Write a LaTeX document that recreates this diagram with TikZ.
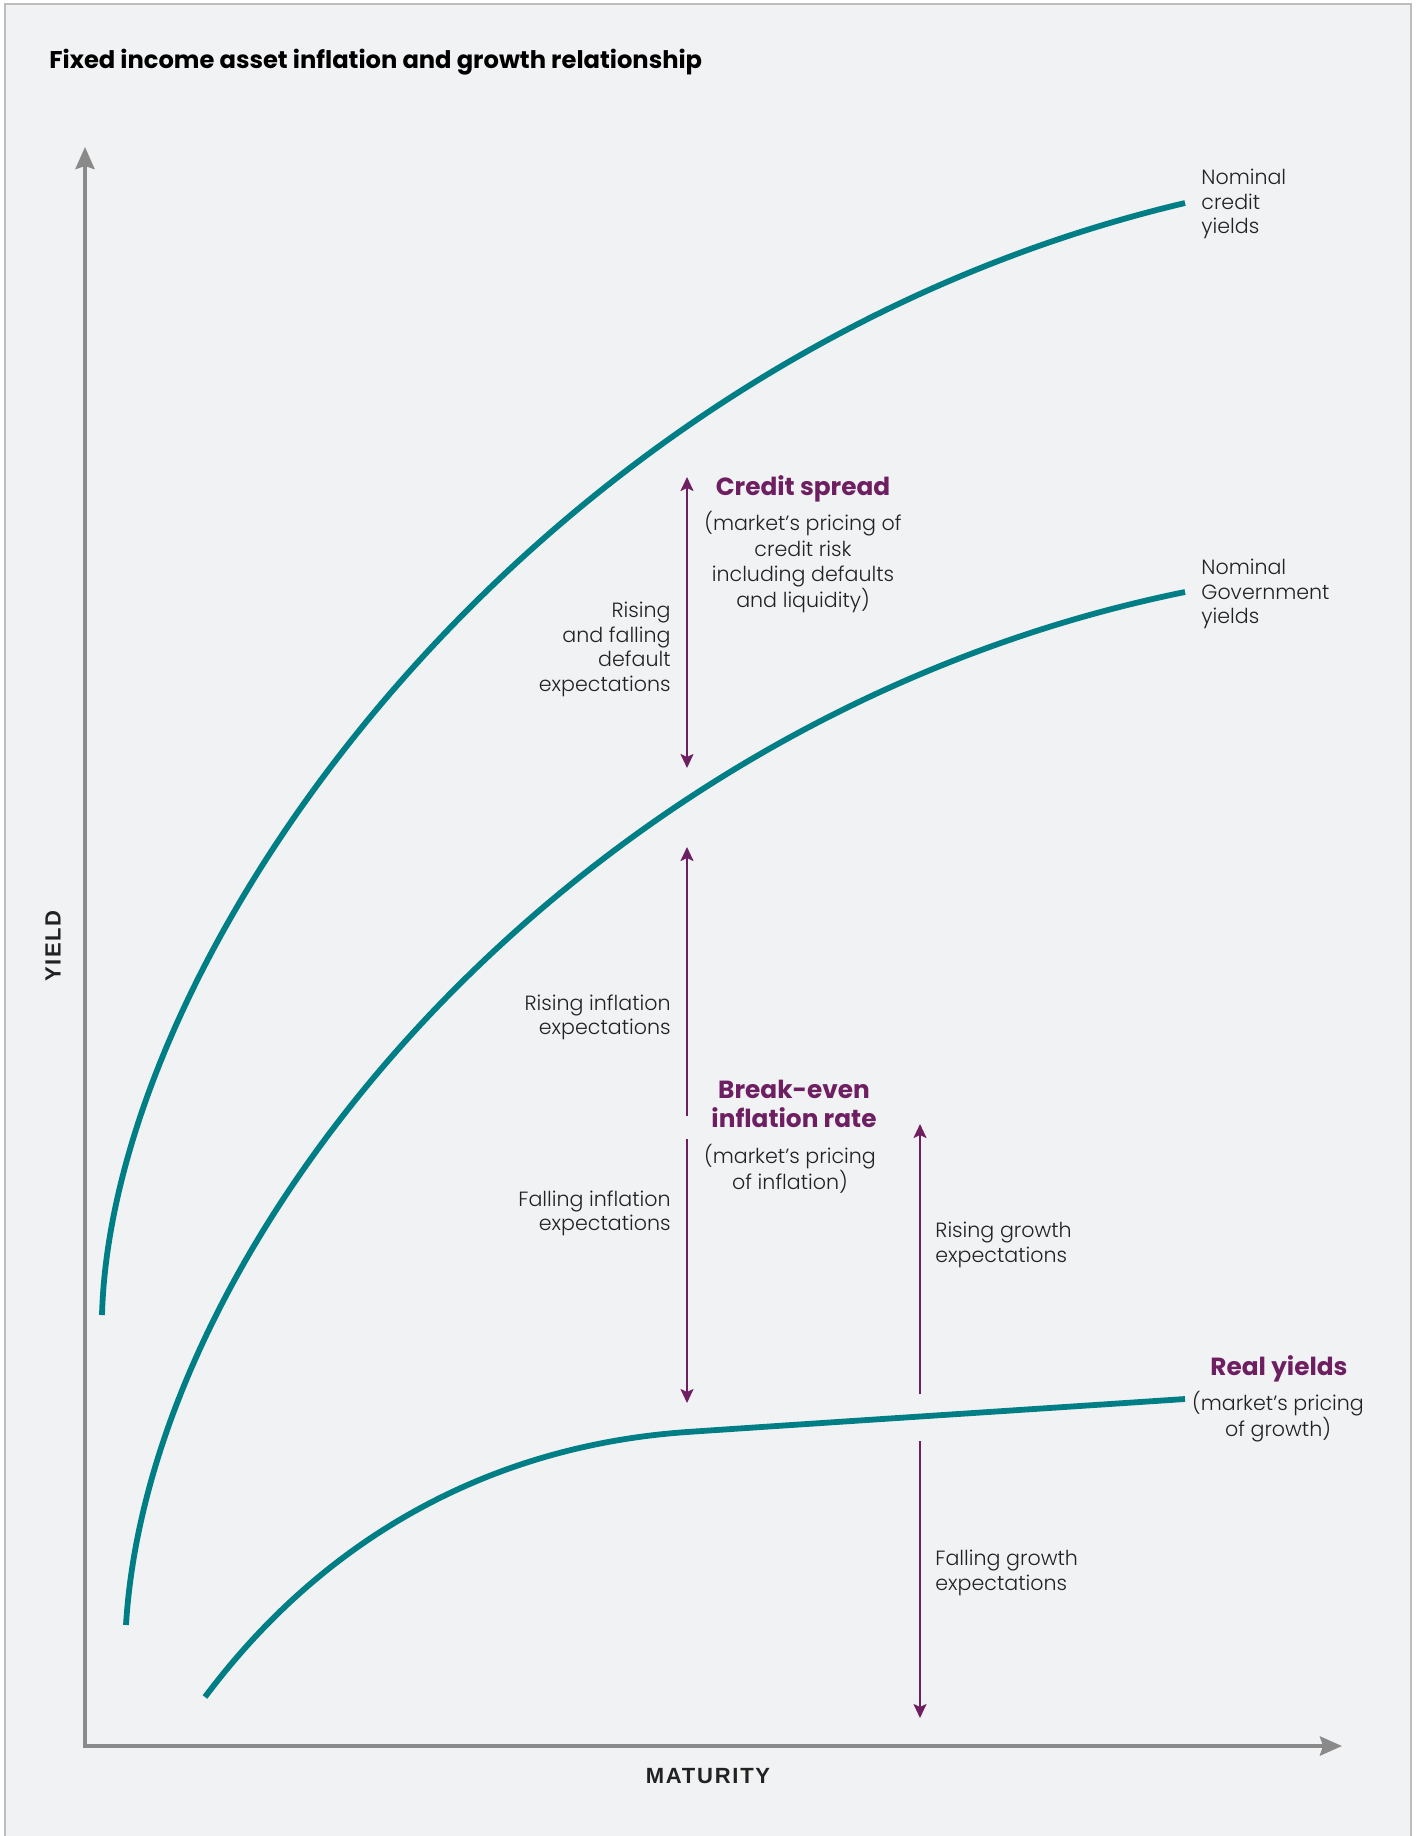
\documentclass[tikz,border=0pt]{standalone}
\usepackage{fontspec}
\setmainfont{Poppins}
\newfontfamily\lightfont{Poppins Light}
\newfontfamily\axisfont[LetterSpace=8]{Liberation Sans}
\usetikzlibrary{arrows.meta}
\definecolor{bgcol}{HTML}{F1F2F4}
\definecolor{framecol}{HTML}{BDBDBD}
\definecolor{curvecol}{HTML}{007E85}
\definecolor{plumcol}{HTML}{6E1F61}
\definecolor{axiscol}{HTML}{8A8A8A}
\definecolor{txtcol}{HTML}{222222}
\tikzset{
  curve/.style={curvecol, line width=2.9pt, line cap=butt},
  axisline/.style={axiscol, line width=2pt, -{Stealth[length=11pt,width=9.5pt,inset=1.5pt]}},
  parrow/.style={plumcol, line width=1pt, -{Stealth[length=7pt,width=6.5pt,inset=1.5pt]}},
  pdarrow/.style={plumcol, line width=1pt, {Stealth[length=7pt,width=6.5pt,inset=1.5pt]}-{Stealth[length=7pt,width=6.5pt,inset=1.5pt]}},
  lbl/.style={inner sep=0pt, text=txtcol, font=\lightfont\fontsize{10.3}{12.25}\selectfont},
  desc/.style={inner sep=0pt, text=txtcol, align=center, font=\lightfont\fontsize{10.3}{12.75}\selectfont},
  head/.style={inner sep=0pt, text=plumcol, align=center, font=\bfseries\fontsize{12.4}{14.5}\selectfont},
  titlestyle/.style={inner sep=0pt, text=black, font=\bfseries\fontsize{12.1}{14}\selectfont},
  axislbl/.style={inner sep=0pt, text=txtcol, font=\axisfont\bfseries\fontsize{11}{13}\selectfont},
}
\begin{document}
\begin{tikzpicture}[x=0.5pt,y=-0.5pt]
\useasboundingbox (0,0) rectangle (1415,1836);
\fill[white] (0,0) rectangle (1415,1836);
\fill[bgcol] (5,4) rectangle (1411,1836);
\draw[framecol, line width=0.75pt] (5,1836) -- (5,4) -- (1411,4) -- (1411,1836);

% title
\node[titlestyle, anchor=base west] (title) at (49,68) {Fixed income asset inflation and growth relationship};

% axes
\coordinate (origin) at (85,1746);
\coordinate (ytip) at (85,147);
\coordinate (xtip) at (1342,1746);
\draw[axisline] (origin) -- (ytip);
\draw[axisline] ([xshift=-1pt]origin) -- (xtip);
\node[axislbl, rotate=90] (ylab) at (53,946) {YIELD};
\node[axislbl] (xlab) at (708,1776) {MATURITY};

% curves
\coordinate (c0) at (102,1315);
\coordinate (c3) at (1185,203);
\draw[curve] (c0) .. controls (112,950) and (530,358) .. (c3);
\coordinate (g0) at (126,1625);
\coordinate (g3) at (1185,592);
\draw[curve] (g0) .. controls (150,1230) and (580,715) .. (g3);
\coordinate (r0) at (205,1697);
\coordinate (r1) at (687,1432);
\coordinate (r3) at (1185,1399);
\draw[curve] (r0) .. controls (330,1530) and (500,1445) .. (r1) .. controls (850,1421) and (1020,1410) .. (r3);

% arrows
\coordinate (cs1) at (687,477);
\coordinate (cs2) at (687,768);
\draw[pdarrow] (cs2) -- (cs1);
\coordinate (bu0) at (687,1116);
\coordinate (bu1) at (687,847);
\draw[parrow] (bu0) -- (bu1);
\coordinate (bd0) at (687,1139);
\coordinate (bd1) at (687,1403);
\draw[parrow] (bd0) -- (bd1);
\coordinate (gu0) at (920,1394);
\coordinate (gu1) at (920,1124);
\draw[parrow] (gu0) -- (gu1);
\coordinate (gd0) at (920,1441);
\coordinate (gd1) at (920,1718);
\draw[parrow] (gd0) -- (gd1);

% labels right
\node[lbl, anchor=north west, align=left] (ncy) at (1201,169) {Nominal\\credit\\yields};
\node[lbl, anchor=north west, align=left] (ngy) at (1201,559) {Nominal\\Government\\yields};
\node[head, anchor=base] (ry) at (1279,1375) {Real yields};
\node[desc, anchor=north] (ryd) at (1278,1391) {(market’s pricing\\of growth)};

% credit spread
\node[head, anchor=base] (cs) at (803,495) {Credit spread};
\node[desc, anchor=north] (csd) at (803,511) {(market’s pricing of\\credit risk\\including defaults\\and liquidity)};
\node[lbl, anchor=north east, align=right] (rdef) at (671,602) {Rising\\and falling\\default\\expectations};

% break-even
\node[lbl, anchor=north east, align=right] (rinf) at (671,994) {Rising inflation\\expectations};
\node[head, anchor=north] (be) at (794,1080) {Break-even\\inflation rate};
\node[desc, anchor=north] (bed) at (790,1144) {(market’s pricing\\of inflation)};
\node[lbl, anchor=north east, align=right] (finf) at (671,1190) {Falling inflation\\expectations};

% growth
\node[lbl, anchor=north west, align=left] (rg) at (935,1222) {Rising growth\\expectations};
\node[lbl, anchor=north west, align=left] (fg) at (935,1550) {Falling growth\\expectations};
\end{tikzpicture}
\end{document}
